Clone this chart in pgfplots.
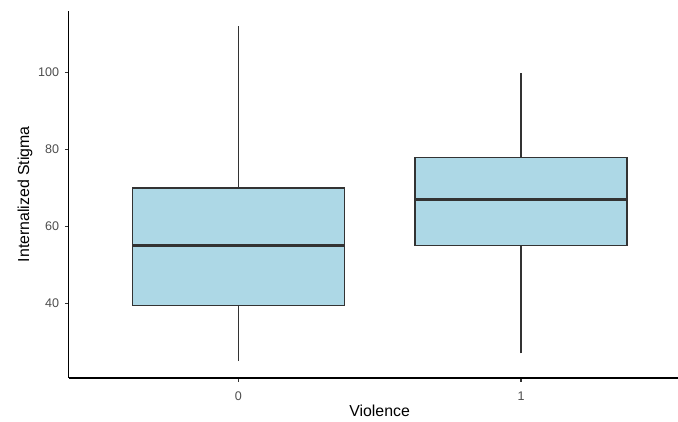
\documentclass[border=0pt]{standalone}
\usepackage{pgfplots}
\pgfplotsset{compat=1.18}
\usepackage{fontspec}
\setmainfont{Liberation Sans}
\definecolor{boxfill}{HTML}{ADD8E6}
\definecolor{boxline}{HTML}{333333}
\definecolor{ticktext}{HTML}{4D4D4D}
\begin{document}
\begin{tikzpicture}
\path[use as bounding box] (-51.5pt,-32.5pt) rectangle (457pt,283.3pt);
\begin{axis}[
  scale only axis,
  width=457pt, height=275.25pt,
  xmin=-0.6, xmax=1.555,
  ymin=20.65, ymax=116.1,
  axis x line=bottom, axis y line=left,
  axis line style={-, black, line width=1.2pt},
  tick align=outside,
  major tick length=2.9pt,
  tick style={boxline, line width=1.1pt},
  xtick={0,1}, ytick={40,60,80,100},
  /pgf/number format/assume math mode=true,
  ticklabel style={font=\fontsize{9.4}{11}\selectfont, text=ticktext},
  yticklabel style={anchor=east, inner sep=0pt, xshift=-4.1pt},
  xticklabel style={anchor=north, inner sep=0pt, yshift=-7.6pt},
  xlabel={Violence}, ylabel={Internalized Stigma},
  label style={font=\fontsize{11.9}{14}\selectfont},
  xlabel style={at={(axis description cs:0.5103,-0.0908)}, anchor=center},
  ylabel style={at={(axis description cs:-0.0718,0.5)}, anchor=center},
  clip=false,
]
% group 0: whiskers 25-112, box 39.5-70, median 55
\addplot[boxline, line width=1.0pt] coordinates {(0,25) (0,39.5)};
\addplot[boxline, line width=1.0pt] coordinates {(0,70) (0,112)};
\addplot[fill=boxfill, draw=boxline, line width=1.07pt] coordinates {(-0.375,39.5) (0.375,39.5) (0.375,70) (-0.375,70)} -- cycle;
\addplot[boxline, line width=2.1pt] coordinates {(-0.375,55) (0.375,55)};
% group 1: whiskers 27-100, box 55-78, median 67
\addplot[boxline, line width=1.0pt] coordinates {(1,27) (1,55)};
\addplot[boxline, line width=1.0pt] coordinates {(1,78) (1,100)};
\addplot[fill=boxfill, draw=boxline, line width=1.07pt] coordinates {(0.625,55) (1.375,55) (1.375,78) (0.625,78)} -- cycle;
\addplot[boxline, line width=2.1pt] coordinates {(0.625,67) (1.375,67)};
\end{axis}
\end{tikzpicture}
\end{document}
